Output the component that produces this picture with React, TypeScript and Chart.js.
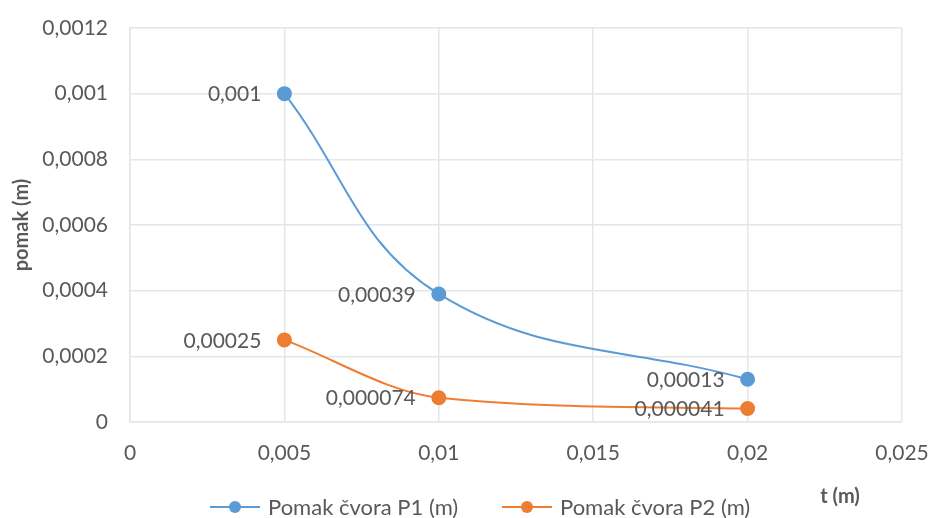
import React, { useEffect, useRef } from "react";
import { Chart, registerables } from "chart.js";

Chart.register(...registerables);

const tValues = [0.005, 0.01, 0.02];
const p1Values = [0.001, 0.00039, 0.00013];
const p2Values = [0.00025, 0.000074, 0.000041];
const p1Labels = ["0,001", "0,00039", "0,00013"];
const p2Labels = ["0,00025", "0,000074", "0,000041"];
const seriesNames = ["Pomak čvora P1 (m)", "Pomak čvora P2 (m)"];
const xTickLabels = ["0", "0,005", "0,01", "0,015", "0,02", "0,025"];
const yTickLabels = ["0", "0,0002", "0,0004", "0,0006", "0,0008", "0,001", "0,0012"];
const xTitle = "t (m)";
const yTitle = "pomak (m)";

const BLUE = "#5b9bd5";
const ORANGE = "#ed7d31";
const TEXT = "#595959";
const GRID = "#e3e6ea";
const FONT = "Lato, 'Open Sans', sans-serif";

const zeroPad = (s: any) => {
  s.paddingLeft = 0;
  s.paddingRight = 0;
  s.paddingTop = 0;
  s.paddingBottom = 0;
};

export default function App() {
  const ref = useRef<HTMLCanvasElement | null>(null);

  useEffect(() => {
    document.body.style.margin = "0";
    const canvas = ref.current;
    if (!canvas) return;

    const overlay = {
      id: "overlay",
      afterDatasetsDraw(chart: any) {
        const ctx = chart.ctx;
        ctx.save();
        ctx.font = `21px ${FONT}`;
        ctx.fillStyle = TEXT;
        ctx.textAlign = "right";
        ctx.textBaseline = "middle";
        const labelSets = [p1Labels, p2Labels];
        chart.data.datasets.forEach((_: any, di: number) => {
          const meta = chart.getDatasetMeta(di);
          meta.data.forEach((pt: any, i: number) => {
            ctx.fillText(labelSets[di][i], pt.x - 23, pt.y + 1);
          });
        });
        // legend
        const colors = [BLUE, ORANGE];
        const starts = [210, 502];
        const ly = 507;
        ctx.font = `22px ${FONT}`;
        ctx.textAlign = "left";
        seriesNames.forEach((name, i) => {
          const x0 = starts[i];
          ctx.strokeStyle = colors[i];
          ctx.lineWidth = 2;
          ctx.beginPath();
          ctx.moveTo(x0, ly);
          ctx.lineTo(x0 + 50, ly);
          ctx.stroke();
          ctx.fillStyle = colors[i];
          ctx.beginPath();
          ctx.arc(x0 + 25, ly, 6, 0, Math.PI * 2);
          ctx.fill();
          ctx.fillStyle = TEXT;
          ctx.fillText(name, x0 + 58, ly + 1);
        });
        // x title
        ctx.font = `bold 20px ${FONT}`;
        ctx.textAlign = "center";
        ctx.fillText(xTitle, 840, 497);
        ctx.restore();
      },
    };

    const chart = new Chart(canvas, {
      type: "scatter",
      data: {
        datasets: [
          {
            label: seriesNames[0],
            data: tValues.map((t, i) => ({ x: t, y: p1Values[i] })),
            showLine: true,
            borderColor: BLUE,
            backgroundColor: BLUE,
            borderWidth: 2,
            pointRadius: 6.5,
            pointHoverRadius: 6.5,
            tension: 0.4,
          },
          {
            label: seriesNames[1],
            data: tValues.map((t, i) => ({ x: t, y: p2Values[i] })),
            showLine: true,
            borderColor: ORANGE,
            backgroundColor: ORANGE,
            borderWidth: 2,
            pointRadius: 6.5,
            pointHoverRadius: 6.5,
            cubicInterpolationMode: "monotone",
          },
        ],
      },
      options: {
        animation: false,
        responsive: false,
        layout: { padding: { top: 28, right: 29, left: 0, bottom: 0 } },
        plugins: {
          legend: { display: false },
          tooltip: { enabled: false },
        },
        scales: {
          x: {
            type: "linear",
            min: 0,
            max: 0.025,
            ticks: {
              stepSize: 0.005,
              color: TEXT,
              font: { family: FONT, size: 21 },
              padding: 19,
              maxRotation: 0,
              callback: (_v: any, i: number) => xTickLabels[i],
            },
            grid: { color: GRID, lineWidth: 1.5, drawTicks: false },
            border: { color: GRID, width: 1.5 },
            afterFit: (s: any) => {
              s.height = 96;
              zeroPad(s);
            },
          },
          y: {
            type: "linear",
            min: 0,
            max: 0.0012,
            ticks: {
              stepSize: 0.0002,
              color: TEXT,
              font: { family: FONT, size: 21 },
              padding: 22,
              callback: (_v: any, i: number) => yTickLabels[i],
            },
            grid: { color: GRID, lineWidth: 1.5, drawTicks: false },
            border: { color: GRID, width: 1.5 },
            title: {
              display: true,
              text: yTitle,
              color: TEXT,
              font: { family: FONT, size: 20, weight: "bold" },
              padding: { top: 10, bottom: 0 },
            },
            afterFit: (s: any) => {
              s.width = 130;
              zeroPad(s);
            },
          },
        },
      },
      plugins: [overlay],
    } as any);

    return () => chart.destroy();
  }, []);

  return (
    <div style={{ position: "absolute", left: 0, top: 0, width: 931, height: 518 }}>
      <canvas ref={ref} width={931} height={518} style={{ width: 931, height: 518 }} />
    </div>
  );
}
